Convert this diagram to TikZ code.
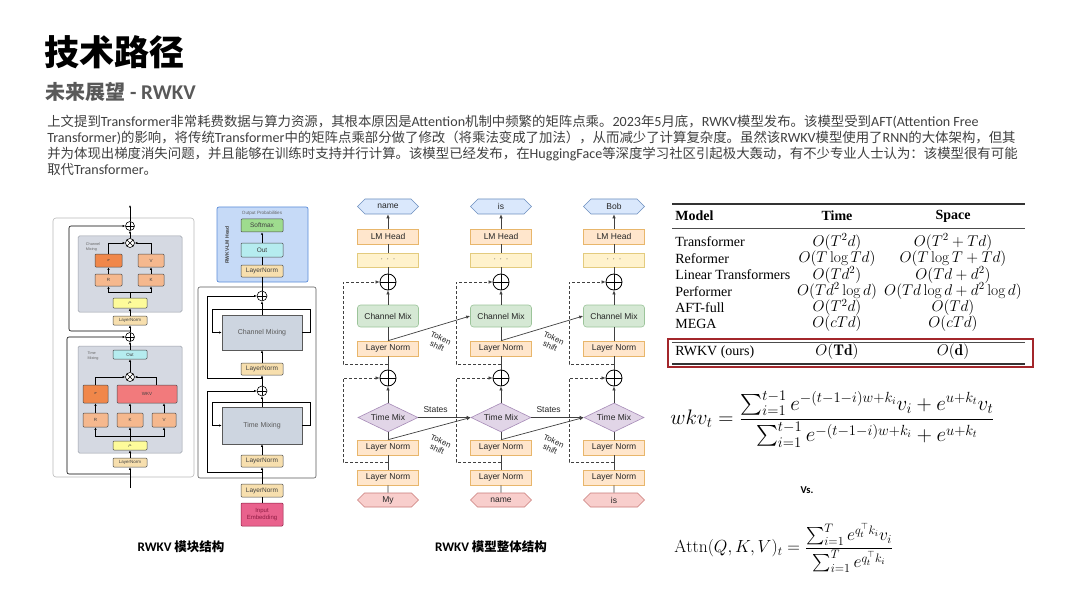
\RequirePackage{fix-cm}
\documentclass[tikz,border=0pt]{standalone}
\usepackage{fontspec}
\usepackage{amsmath}
\usetikzlibrary{shapes.geometric, shapes.symbols, arrows.meta, positioning, calc}
\newfontfamily\cjk{Noto Sans CJK SC}
\newfontfamily\enfont[Scale=1.05]{Carlito}
\newfontfamily\arialf{Liberation Sans}
\newfontfamily\timesf{Liberation Serif}
\newcommand\entxt[1]{{\enfont #1}}

\definecolor{bodyText}{HTML}{404040}
\definecolor{subGray}{HTML}{595959}
\definecolor{blkGray}{HTML}{D5D9E2}
\definecolor{blkEdge}{HTML}{9A9FA8}
\definecolor{sigFill}{HTML}{F0874A}
\definecolor{rkvFill}{HTML}{F5B88E}
\definecolor{wkvFill}{HTML}{F27A7C}
\definecolor{muFill}{HTML}{FDFB9A}
\definecolor{lnFillA}{HTML}{F7DFAE}
\definecolor{outFill}{HTML}{B5ECEF}
\definecolor{smFill}{HTML}{9EDC8E}
\definecolor{headFill}{HTML}{C6DAF7}
\definecolor{headEdge}{HTML}{5B8DD9}
\definecolor{mixFill}{HTML}{CDD5E0}
\definecolor{embFill}{HTML}{E9628D}
\definecolor{embText}{HTML}{8E1B42}
\definecolor{hoFill}{HTML}{DAE8FC}
\definecolor{hoDraw}{HTML}{6C8EBF}
\definecolor{lnFill}{HTML}{FFE6CC}
\definecolor{lnDraw}{HTML}{E8B66B}
\definecolor{dotFill}{HTML}{FFF2CC}
\definecolor{dotDraw}{HTML}{E3CB7E}
\definecolor{chFill}{HTML}{D5E8D4}
\definecolor{chDraw}{HTML}{9CC49A}
\definecolor{tmFill}{HTML}{E1D5E7}
\definecolor{tmDraw}{HTML}{A68BB7}
\definecolor{hiFill}{HTML}{F8CECC}
\definecolor{hiDraw}{HTML}{C97A77}
\definecolor{redBox}{HTML}{A3262B}

\tikzset{
  gbox/.style={rectangle, draw=blkEdge, fill=blkGray, rounded corners=1.5pt, inner sep=0, line width=0.5pt},
  cell/.style={rectangle, draw=gray!60!black, rounded corners=1pt, inner sep=0, line width=0.5pt, font=\arialf\fontsize{4.5}{5}\selectfont, text=black!75},
  tinylbl/.style={font=\arialf\fontsize{3.8}{4.3}\selectfont, text=black!60, align=left, inner sep=0},
  addop/.style={circle, draw, fill=white, inner sep=0, minimum size=#1, path picture={\draw (path picture bounding box.north) -- (path picture bounding box.south) (path picture bounding box.west) -- (path picture bounding box.east);}},
  addop/.default=9pt,
  mulop/.style={circle, draw, fill=white, inner sep=0, minimum size=#1, path picture={\draw (path picture bounding box.north west) -- (path picture bounding box.south east) (path picture bounding box.south west) -- (path picture bounding box.north east);}},
  mulop/.default=9pt,
  sarr/.style={-{Latex[length=2.5pt,width=2.2pt]}},
  mfont/.style={font=\arialf\fontsize{8.5}{10}\selectfont, text=black!85},
  lnbox/.style={rectangle, draw=lnDraw, fill=lnFill, minimum width=61pt, minimum height=15pt, inner sep=0, mfont},
  dotbox/.style={lnbox, draw=dotDraw, fill=dotFill},
  chbox/.style={lnbox, draw=chDraw, fill=chFill, minimum height=22pt, rounded corners=3pt},
  tmdia/.style={diamond, draw=tmDraw, fill=tmFill, minimum width=60pt, minimum height=29pt, inner sep=0, aspect=2.2, mfont},
  hexout/.style={signal, signal to=west and east, draw=hoDraw, fill=hoFill, minimum width=61pt, minimum height=15pt, inner sep=0, mfont},
  hexin/.style={hexout, draw=hiDraw, fill=hiFill},
  skipline/.style={densely dashed, line width=0.7pt, draw=black!75, -{Latex[length=4pt,width=3.5pt]}},
  marr/.style={line width=0.7pt, draw=black!75, -{Latex[length=4pt,width=3.5pt]}},
  mline/.style={line width=0.7pt, draw=black!75},
  shiftlbl/.style={rotate=-24, align=center, inner sep=0, font=\arialf\fontsize{8}{9}\selectfont, text=black!85},
  tabtxt/.style={font=\timesf\fontsize{14}{16}\selectfont, inner sep=0},
  tabmath/.style={font=\fontsize{15.5}{17}\selectfont, inner sep=0},
  caption/.style={font=\cjk\bfseries\fontsize{12.5}{14}\selectfont}
}

\begin{document}
\begin{tikzpicture}[x=1pt, y=-1pt, line width=0.6pt]
\fill[white] (0,0) rectangle (1080,607);
\useasboundingbox (0,0) rectangle (1080,607);

% heading and text
\node[anchor=west, inner sep=0, font=\cjk\bfseries\fontsize{35}{40}\selectfont] (title) at (44,52) {技术路径};
\node[anchor=west, inner sep=0, text=subGray, font=\cjk\bfseries\fontsize{20}{24}\selectfont] (subtitle) at (45,92) {未来展望\entxt{ - RWKV}};
\node[anchor=north west, inner sep=0, align=left, text=bodyText, font=\cjk\fontsize{13.4}{16}\selectfont] (intro) at (47,114.5) {上文提到\entxt{Transformer}非常耗费数据与算力资源，其根本原因是\entxt{Attention}机制中频繁的矩阵点乘。\entxt{2023}年\entxt{5}月底，\entxt{RWKV}模型发布。该模型受到\entxt{AFT(Attention Free}\\
\entxt{Transformer)}的影响，将传统\entxt{Transformer}中的矩阵点乘部分做了修改（将乘法变成了加法），从而减少了计算复杂度。虽然该\entxt{RWKV}模型使用了\entxt{RNN}的大体架构，但其\\
并为体现出梯度消失问题，并且能够在训练时支持并行计算。该模型已经发布，在\entxt{HuggingFace}等深度学习社区引起极大轰动，有不少专业人士认为：该模型很有可能\\
取代\entxt{Transformer}。};

% RWKV block (left)
\draw[draw=gray!55, rounded corners=3pt] (53,218) rectangle (194,477);
\node[gbox, minimum width=104pt, minimum height=76pt] (chbg) at (130,274) {};
\node[gbox, minimum width=104pt, minimum height=107pt] (tmbg) at (130,399.5) {};
\node[tinylbl] (chlbl) at (93,247) {Channel\\Mixing};
\node[tinylbl] (tmlbl) at (93,356) {Time\\Mixing};
\node[addop=9pt] (addc) at (130,226) {};
\node[mulop=9pt] (mulc) at (130,243) {};
\node[cell, fill=sigFill, minimum width=27pt, minimum height=13pt] (sigc) at (108.5,260.5) {$\sigma$};
\node[cell, fill=rkvFill, minimum width=26pt, minimum height=13pt] (vc) at (151,260.5) {V};
\node[cell, fill=rkvFill, minimum width=27pt, minimum height=12pt] (rc) at (108.5,280) {R};
\node[cell, fill=rkvFill, minimum width=26pt, minimum height=12pt] (kc) at (151,280) {K};
\node[cell, fill=muFill, minimum width=34pt, minimum height=10pt] (muc) at (130,303) {$\mu$};
\node[cell, fill=lnFillA, minimum width=34pt, minimum height=9pt] (lnc) at (130,320.5) {LayerNorm};
\node[addop=9pt] (addt) at (130,337) {};
\node[cell, fill=outFill, minimum width=34pt, minimum height=9pt] (outt) at (130,354.5) {Out};
\node[mulop=9pt] (mult) at (130,377) {};
\node[cell, fill=sigFill, minimum width=25pt, minimum height=18pt] (sigt) at (95.5,394) {$\sigma$};
\node[cell, fill=wkvFill, minimum width=60pt, minimum height=18pt] (wkvt) at (147,394) {WKV};
\node[cell, fill=rkvFill, minimum width=25pt, minimum height=14pt] (rt) at (95.5,420) {R};
\node[cell, fill=rkvFill, minimum width=26pt, minimum height=14pt] (kt) at (130,420) {K};
\node[cell, fill=rkvFill, minimum width=24pt, minimum height=14pt] (vt) at (164,420) {V};
\node[cell, fill=muFill, minimum width=34pt, minimum height=9pt] (mut) at (130,445.5) {$\mu$};
\node[cell, fill=lnFillA, minimum width=34pt, minimum height=9pt] (lnt) at (130,462.5) {LayerNorm};
\coordinate (blkin) at (130,488);
\coordinate (blkout) at (130,205);
\coordinate (skipt) at (130,474);
\coordinate (skipc) at (130,331);
\draw[sarr] (blkin) -- (lnt);
\draw[sarr] (lnt) -- (mut);
\draw[sarr] (mut) -- (kt);
\draw[sarr] (mut.north) -- ++(0,-4) -| (rt);
\draw[sarr] (mut.north) -- ++(0,-4) -| (vt);
\draw[sarr] (rt) -- (sigt);
\draw[sarr] (kt) -- (kt |- wkvt.south);
\draw[sarr] (vt) -- (vt |- wkvt.south);
\draw[sarr] (sigt.north) |- (mult.west);
\draw[sarr] ([xshift=9pt]wkvt.north) |- (mult.east);
\draw[sarr] (mult) -- (outt);
\draw[sarr] (outt) -- (addt);
\draw[sarr, rounded corners=2pt] (skipt) -| (67,337) -- (addt.west);
\draw[sarr] (addt) -- (lnc);
\draw[sarr] (lnc) -- (muc);
\draw[sarr] (muc.north) -- ++(0,-5) -| (rc);
\draw[sarr] (muc.north) -- ++(0,-5) -| (kc);
\draw[sarr] (rc) -- (sigc);
\draw[sarr] (kc) -- (vc);
\draw[sarr] (sigc.north) |- (mulc.west);
\draw[sarr] (vc.north) |- (mulc.east);
\draw[sarr] (mulc) -- (addc);
\draw[sarr, rounded corners=2pt] (skipc) -| (69,226) -- (addc.west);
\draw[sarr] (addc) -- (blkout);

% RWKV-LM (middle left)
\node[rectangle, draw=headEdge, fill=headFill, rounded corners=2pt, minimum width=91pt, minimum height=75pt, line width=0.7pt] (lmhead) at (262.5,244.5) {};
\node[tinylbl, font=\arialf\fontsize{4.6}{5}\selectfont] (prob) at (262,213) {Output Probabilities};
\node[tinylbl, rotate=90, text=black!75, font=\arialf\bfseries\fontsize{5}{6}\selectfont] (headlbl) at (227,245) {RWKV-LM Head};
\node[cell, fill=smFill, minimum width=42pt, minimum height=13pt, font=\arialf\fontsize{6.5}{7}\selectfont] (smax) at (262,225.5) {Softmax};
\node[cell, fill=outFill, minimum width=42pt, minimum height=14pt, font=\arialf\fontsize{6.5}{7}\selectfont] (outh) at (262,250) {Out};
\node[cell, fill=lnFillA, minimum width=42pt, minimum height=12pt, font=\arialf\fontsize{6.5}{7}\selectfont] (lnh) at (262,271) {LayerNorm};
\draw[draw=gray!70!black, rounded corners=2pt] (198,287) rectangle (316,478);
\node[addop=10pt] (addch) at (262,296) {};
\node[rectangle, draw=gray!70!black, fill=mixFill, minimum width=80pt, minimum height=35pt, font=\arialf\fontsize{7}{8}\selectfont, text=black!65] (chmix) at (262,332.5) {Channel Mixing};
\node[cell, fill=lnFillA, minimum width=42pt, minimum height=12pt, font=\arialf\fontsize{6.5}{7}\selectfont] (lnch) at (262,369) {LayerNorm};
\node[addop=10pt] (addtm) at (262,391) {};
\node[rectangle, draw=gray!70!black, fill=mixFill, minimum width=80pt, minimum height=37pt, font=\arialf\fontsize{7}{8}\selectfont, text=black!65] (tmix) at (262,425.5) {Time Mixing};
\node[cell, fill=lnFillA, minimum width=42pt, minimum height=12pt, font=\arialf\fontsize{6.5}{7}\selectfont] (lntm) at (262,461) {LayerNorm};
\node[cell, fill=lnFillA, minimum width=42pt, minimum height=13pt, font=\arialf\fontsize{6.5}{7}\selectfont] (lnin) at (262,490.5) {LayerNorm};
\node[cell, fill=embFill, draw=embText, text=embText, minimum width=42pt, minimum height=23pt, align=center, font=\arialf\fontsize{6}{7}\selectfont] (emb) at (262,514.5) {Input\\Embedding};
\coordinate (tmloop) at (262,402);
\coordinate (tmskip) at (262,472);
\coordinate (chloop) at (262,309);
\coordinate (chskip) at (262,378);
\draw (emb) -- (lnin);
\draw[sarr] (lnin) -- (lntm);
\draw[sarr] (lntm) -- (tmix);
\draw[sarr] (tmix) -- (addtm);
\draw[sarr] (tmloop) -| (212,425.5) -- (tmix.west);
\draw (tmloop) -| (310,425.5) -- (tmix.east);
\draw[sarr] (tmskip) -| (207,391) -- (addtm.west);
\draw[sarr] (addtm) -- (lnch);
\draw[sarr] (lnch) -- (chmix);
\draw[sarr] (chmix) -- (addch);
\draw[sarr] (chloop) -| (212,332.5) -- (chmix.west);
\draw (chloop) -| (310,332.5) -- (chmix.east);
\draw[sarr] (chskip) -| (207,296) -- (addch.west);
\draw (addch) -- (lnh);
\draw (lnh) -- (outh);
\draw[sarr] (outh) -- (smax);

% RWKV unrolled (middle)
\foreach \i/\x/\o/\w in {1/388/name/My, 2/501/is/name, 3/614/Bob/is} {
  \node[hexout] (hout\i) at (\x,206.5) {\o};
  \node[lnbox] (lmh\i) at (\x,236.5) {LM Head};
  \node[dotbox, minimum height=14pt] (dots\i) at (\x,260) {$\cdot\,\cdot\,\cdot$};
  \node[addop=16pt, line width=0.8pt] (addc\i) at (\x,282) {};
  \node[chbox] (chm\i) at (\x,316) {Channel Mix};
  \node[lnbox] (lnc\i) at (\x,348.5) {Layer Norm};
  \node[addop=16pt, line width=0.8pt] (addt\i) at (\x,378) {};
  \node[tmdia] (tm\i) at (\x,417.5) {Time Mix};
  \node[lnbox] (lnt\i) at (\x,447.5) {Layer Norm};
  \node[lnbox] (lni\i) at (\x,477.5) {Layer Norm};
  \node[hexin, minimum height=14pt] (hin\i) at (\x,500) {\w};
  \coordinate (sc\i) at (\x,364);
  \coordinate (st\i) at (\x,462);
  \draw[mline] (hin\i) -- (lni\i);
  \draw[mline] (lni\i) -- (lnt\i);
  \draw[mline] (lnt\i) -- (tm\i);
  \draw[marr] (tm\i) -- (addt\i);
  \draw[mline] (addt\i) -- (lnc\i);
  \draw[mline] (lnc\i) -- (chm\i);
  \draw[marr] (chm\i) -- (addc\i);
  \draw[mline] (addc\i) -- (dots\i);
  \draw[mline] (dots\i) -- (lmh\i);
  \draw[marr] (lmh\i) -- (hout\i);
  \draw[skipline] (sc\i) -| (\x-45,282) -- (addc\i.west);
  \draw[skipline] (st\i) -| (\x-45,378) -- (addt\i.west);
}
\foreach \i/\j/\x in {1/2/388, 2/3/501} {
  \draw[marr] (tm\i.east) -- node[pos=0.33, above=1pt, mfont] {States} (tm\j.west);
  \draw[marr] (lnt\i.north) -- (tm\j.west);
  \draw[marr] (lnc\i.north) -- (chm\j.west);
  \node[shiftlbl] (tsl\i) at (\x+51,445) {Token\\shift};
  \node[shiftlbl] (csl\i) at (\x+51,342) {Token\\shift};
}

% captions
\node[caption] (cap1) at (181,547) {\entxt{RWKV} 模块结构};
\node[caption] (cap2) at (491,547) {\entxt{RWKV} 模型整体结构};

% complexity table
\draw[line width=1.2pt, black!80] (672,204) -- (1025,204);
\draw[line width=0.7pt, black!70] (672,228) -- (1025,228);
\node[tabtxt, anchor=west, font=\timesf\bfseries\fontsize{14}{16}\selectfont] (hmodel) at (675,216) {Model};
\node[tabtxt, font=\timesf\bfseries\fontsize{14}{16}\selectfont] (htime) at (837,216) {Time};
\node[tabtxt, font=\timesf\bfseries\fontsize{14}{16}\selectfont] (hspace) at (953,216) {Space};
\foreach \m/\t/\s [count=\r] in {Transformer/{$O(T^2d)$}/{$O(T^2+Td)$},
    Reformer/{$O(T\log Td)$}/{$O(T\log T+Td)$},
    Linear Transformers/{$O(Td^2)$}/{$O(Td+d^2)$},
    Performer/{$O(Td^2\log d)$}/{$O(Td\log d+d^2\log d)$},
    AFT-full/{$O(T^2d)$}/{$O(Td)$},
    MEGA/{$O(cTd)$}/{$O(cTd)$}} {
  \node[tabtxt, anchor=west] (mdl\r) at (675,242+16.4*\r-16.4) {\m};
  \node[tabmath] (tim\r) at (837,242+16.4*\r-16.4) {\t};
  \node[tabmath] (spc\r) at (953,242+16.4*\r-16.4) {\s};
}
\draw[line width=0.7pt, black!70] (672,342) -- (1025,342);
\draw[line width=1.2pt, black!80] (672,364) -- (1025,364);
\draw[redBox, line width=1.3pt] (668,339) rectangle (1033,367);
\node[tabtxt, anchor=west] (mdl7) at (675,352) {RWKV (ours)};
\node[tabmath] (tim7) at (837,352) {$O(\mathbf{Td})$};
\node[tabmath] (spc7) at (953,352) {$O(\mathbf{d})$};

% formulas
\node[anchor=west, inner sep=0, font=\fontsize{21}{25}\selectfont] (wkv) at (670,419) {$\displaystyle wkv_t=\frac{\sum_{i=1}^{t-1}e^{-(t-1-i)w+k_i}v_i+e^{u+k_t}v_t}{\sum_{i=1}^{t-1}e^{-(t-1-i)w+k_i}+e^{u+k_t}}$};
\node[font=\enfont\bfseries\fontsize{10}{12}\selectfont] (vs) at (807,490) {Vs.};
\node[anchor=west, inner sep=0, font=\fontsize{17.5}{20}\selectfont] (attn) at (674,548) {$\displaystyle \mathrm{Attn}(Q,K,V)_t=\frac{\sum_{i=1}^{T}e^{q_t^\top k_i}v_i}{\sum_{i=1}^{T}e^{q_t^\top k_i}}$};
\end{tikzpicture}
\end{document}
